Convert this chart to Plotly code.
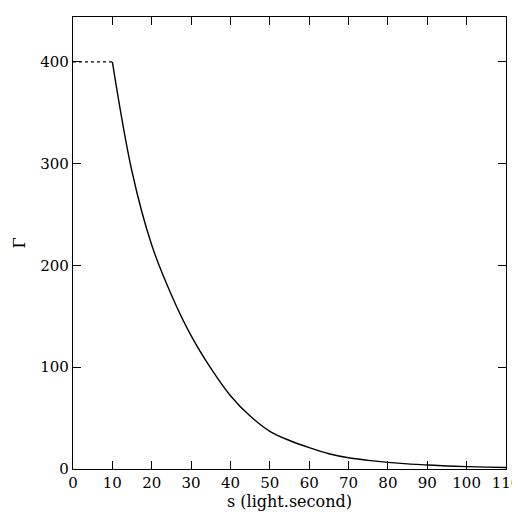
import plotly.graph_objects as go

s_flat = [0, 10]
g_flat = [400, 400]

s = [10, 15, 20, 25, 30, 35, 40, 45, 50, 55, 60, 65, 70, 75, 80, 85, 90, 95, 100, 105, 110]
gamma = [400, 292, 220, 171, 131, 99, 72, 52, 37, 28, 21, 15, 11, 8.5, 6.5, 5, 4, 3, 2.3, 1.8, 1.4]

fig = go.Figure()
fig.add_trace(go.Scatter(x=s_flat, y=g_flat, mode='lines',
                         line=dict(color='black', width=1.2, dash='dot')))
fig.add_trace(go.Scatter(x=s, y=gamma, mode='lines',
                         line=dict(color='black', width=1.4, shape='spline', smoothing=1.0)))

axis_common = dict(showgrid=False, zeroline=False, showline=True, linecolor='black',
                   linewidth=1.2, mirror='allticks', ticks='inside', ticklen=8,
                   tickcolor='black', tickfont=dict(size=15, color='black'))

fig.update_layout(
    width=520, height=512,
    paper_bgcolor='white', plot_bgcolor='white',
    showlegend=False,
    font=dict(family='DejaVu Serif', color='black'),
    margin=dict(l=65, r=18, t=8, b=51),
    xaxis=dict(range=[0, 110], dtick=10, title=dict(text='s (light.second)', font=dict(size=16), standoff=4),
               **axis_common),
    yaxis=dict(range=[0, 444], dtick=100, title=dict(text='Γ', font=dict(size=16), standoff=10),
               **axis_common),
)

fig.write_html("out.html")
